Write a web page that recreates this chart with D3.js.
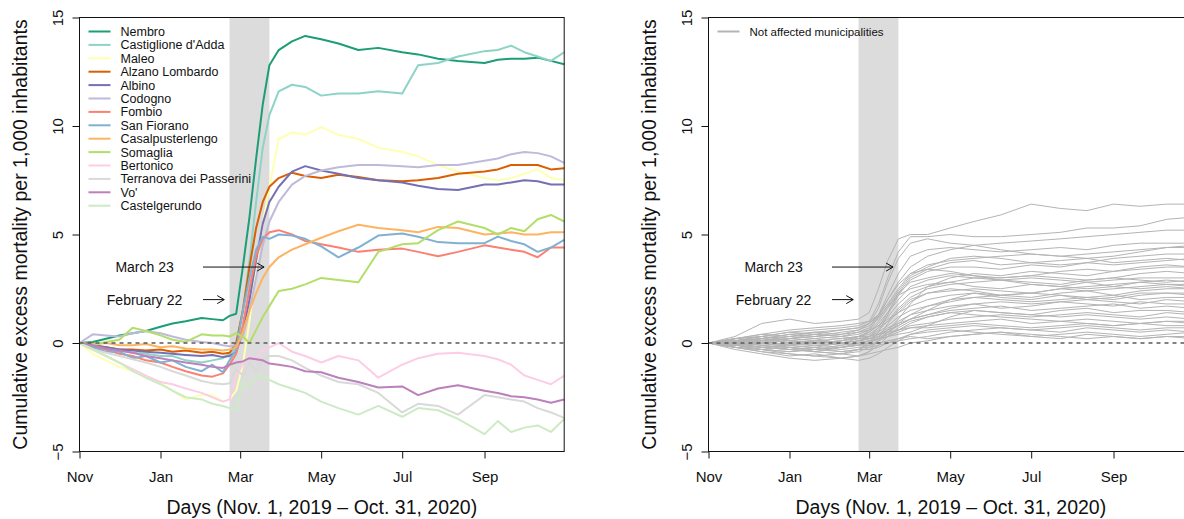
<!DOCTYPE html>
<html>
<head>
<meta charset="utf-8">
<script src="https://cdn.jsdelivr.net/npm/d3@7"></script>
<style>
  body { margin: 0; background: #fff; }
  text { font-family: 'Liberation Sans', Arial, Helvetica, sans-serif; }
</style>
</head>
<body>
<svg id="chart" width="1184" height="519"></svg>
<script>
// sampled days for the affected municipalities
const days = ['2019-11-01', '2019-11-11', '2019-11-21', '2019-12-01', '2019-12-11', '2019-12-21',
  '2020-01-01', '2020-01-10', '2020-01-20', '2020-02-01', '2020-02-09', '2020-02-17', '2020-02-22',
  '2020-02-27', '2020-03-03', '2020-03-08', '2020-03-13', '2020-03-18', '2020-03-23', '2020-03-30',
  '2020-04-09', '2020-04-19', '2020-05-01', '2020-05-14', '2020-05-29', '2020-06-13', '2020-07-01',
  '2020-07-13', '2020-07-28', '2020-08-12', '2020-09-01', '2020-09-11', '2020-09-21', '2020-10-01',
  '2020-10-11', '2020-10-21', '2020-10-31']

const municipalities = ['Nembro', "Castiglione d'Adda", 'Maleo', 'Alzano Lombardo', 'Albino', 'Codogno',
  'Fombio', 'San Fiorano', 'Casalpusterlengo', 'Somaglia', 'Bertonico', 'Terranova dei Passerini',
  "Vo'", 'Castelgerundo']
const colors = ['#1b9e77', '#8dd3c7', '#ffffb3', '#d95f02', '#7570b3', '#bebada', '#fb8072',
  '#80b1d3', '#fdb462', '#b3de69', '#fccde5', '#d9d9d9', '#bc80bd', '#ccebc5']

const nembro = [0, 0.05, 0.2, 0.35, 0.45, 0.55, 0.75, 0.9, 1.0, 1.15, 1.1, 1.05, 1.25, 1.35, 3.5, 5.8, 8.5, 11.0, 12.8, 13.5, 13.9, 14.15, 14.0, 13.8, 13.5, 13.6, 13.4, 13.3, 13.1, 13.0, 12.9, 13.05, 13.1, 13.1, 13.15, 13.0, 12.85]
const castiglione = [0, -0.1, -0.3, -0.35, -0.45, -0.5, -0.6, -0.6, -0.8, -0.9, -0.8, -0.7, -0.5, -0.2, 1.5, 3.8, 6.5, 9.0, 10.5, 11.6, 11.9, 11.8, 11.4, 11.5, 11.5, 11.6, 11.5, 12.8, 12.9, 13.2, 13.45, 13.5, 13.7, 13.4, 13.2, 13.0, 13.4]
const maleo = [0, -0.5, -0.8, -1.1, -1.3, -1.6, -1.8, -2.2, -2.6, -2.4, -2.4, -2.7, -2.6, -2.2, -1.0, 1.0, 3.5, 5.5, 7.2, 9.4, 9.7, 9.6, 9.95, 9.6, 9.4, 9.0, 8.8, 8.6, 8.2, 7.9, 7.6, 7.5, 7.6, 7.8, 8.0, 7.6, 7.5]
const alzano = [0, -0.1, -0.2, -0.3, -0.3, -0.35, -0.3, -0.4, -0.35, -0.45, -0.4, -0.5, -0.45, 0.0, 1.5, 3.5, 5.3, 6.5, 7.2, 7.6, 7.85, 7.7, 7.6, 7.75, 7.65, 7.5, 7.45, 7.5, 7.6, 7.8, 7.9, 8.0, 8.2, 8.2, 8.2, 8.0, 8.05]
const albino = [0, -0.1, -0.2, -0.3, -0.35, -0.4, -0.45, -0.5, -0.55, -0.6, -0.55, -0.65, -0.6, -0.4, 0.5, 2.0, 3.8, 5.5, 6.5, 7.2, 7.9, 8.15, 7.95, 7.8, 7.6, 7.5, 7.4, 7.25, 7.1, 7.05, 7.3, 7.3, 7.4, 7.5, 7.45, 7.3, 7.3]
const codogno = [0, 0.4, 0.35, 0.3, 0.45, 0.55, 0.45, 0.3, 0.15, 0.05, 0.0, -0.1, -0.15, -0.1, 0.3, 1.5, 3.0, 4.5, 5.6, 6.5, 7.3, 7.7, 7.95, 8.1, 8.2, 8.2, 8.15, 8.1, 8.2, 8.2, 8.4, 8.5, 8.7, 8.8, 8.75, 8.6, 8.3]
const fombio = [0, -0.15, -0.3, -0.5, -0.6, -0.8, -0.9, -1.1, -1.3, -1.5, -1.55, -1.4, -1.0, -0.5, 0.8, 2.5, 4.0, 4.8, 5.1, 5.2, 5.0, 4.7, 4.55, 4.4, 4.2, 4.3, 4.35, 4.2, 4.0, 4.2, 4.5, 4.4, 4.3, 4.2, 3.95, 4.4, 4.4]
const sanFiorano = [0, -0.2, -0.4, -0.4, -0.7, -0.6, -0.9, -0.8, -1.1, -1.3, -1.0, -1.35, -0.8, -0.3, 1.5, 3.0, 4.3, 4.9, 4.8, 5.0, 4.95, 4.8, 4.45, 3.95, 4.4, 4.95, 5.05, 4.9, 4.65, 4.6, 4.6, 4.9, 4.7, 4.55, 4.2, 4.4, 4.75]
const casalpusterlengo = [0, -0.05, 0.0, -0.1, -0.1, -0.05, -0.2, -0.15, -0.25, -0.3, -0.3, -0.35, -0.3, -0.2, 0.5, 1.5, 2.3, 3.0, 3.5, 3.95, 4.3, 4.55, 4.85, 5.15, 5.45, 5.3, 5.2, 5.1, 5.35, 5.3, 5.0, 5.05, 5.1, 5.0, 5.0, 5.1, 5.1]
const somaglia = [0, -0.1, 0.05, 0.15, 0.7, 0.55, 0.35, 0.15, 0.05, 0.4, 0.35, 0.35, 0.3, 0.45, 0.3, 0.0, 0.6, 1.2, 1.7, 2.4, 2.5, 2.7, 3.0, 2.9, 2.8, 4.2, 4.55, 4.6, 5.2, 5.6, 5.3, 5.0, 5.3, 5.15, 5.7, 5.9, 5.6]
const bertonico = [0, -0.3, -0.6, -0.9, -1.2, -1.5, -1.8, -1.9, -2.1, -2.3, -2.5, -2.7, -2.6, -1.5, -1.0, -0.6, -0.8, -0.3, -0.2, 0.0, -0.4, -0.6, -0.9, -0.6, -0.8, -1.6, -1.0, -0.7, -0.5, -0.45, -0.6, -0.75, -1.0, -1.5, -1.7, -1.9, -1.5]
const terranova = [0, -0.3, -0.45, -0.6, -0.75, -0.9, -1.1, -1.3, -1.5, -1.75, -1.85, -1.9, -1.85, -1.2, -1.5, -0.9, -1.3, -0.8, -0.6, -0.6, -0.8, -1.15, -1.5, -1.8, -1.9, -2.3, -3.2, -2.8, -2.9, -3.3, -2.4, -2.5, -2.6, -2.7, -3.0, -3.2, -3.45]
const vo = [0, -0.1, -0.25, -0.35, -0.45, -0.6, -0.7, -0.8, -0.9, -1.0, -1.1, -1.15, -1.0, -0.9, -0.85, -0.7, -0.75, -0.8, -0.95, -1.0, -1.1, -1.3, -1.35, -1.6, -1.8, -2.05, -2.0, -2.4, -2.1, -1.95, -2.2, -2.3, -2.45, -2.5, -2.6, -2.75, -2.6]
const castelgerundo = [0, -0.3, -0.6, -0.9, -1.3, -1.6, -1.9, -2.2, -2.5, -2.6, -2.8, -2.9, -3.0, -3.1, -1.8, -2.0, -1.6, -1.5, -1.7, -1.9, -2.1, -2.3, -2.7, -3.0, -3.3, -2.9, -3.4, -3.0, -3.1, -3.5, -4.2, -3.6, -4.1, -3.9, -3.8, -4.1, -3.5]

const affected = [nembro, castiglione, maleo, alzano, albino, codogno, fombio, sanFiorano,
  casalpusterlengo, somaglia, bertonico, terranova, vo, castelgerundo]

// sampled days for the not affected municipalities
const otherDays = ['2019-11-01', '2019-11-21', '2019-12-11', '2020-01-01', '2020-01-20', '2020-02-09',
  '2020-02-22', '2020-03-01', '2020-03-08', '2020-03-15', '2020-03-23', '2020-04-01', '2020-04-14',
  '2020-05-01', '2020-05-19', '2020-06-08', '2020-07-01', '2020-07-23', '2020-08-12', '2020-09-01',
  '2020-09-21', '2020-10-11', '2020-10-31']

const notAffected = [
  [0, 0.3, 0.9, 1.1, 0.9, 1.0, 1.1, 1.4, 2.5, 3.8, 4.8, 5.0, 5.0, 5.3, 5.6, 5.9, 6.4, 6.2, 6.1, 6.4, 6.3, 6.4, 6.4],
  [0, 0.1, 0.3, 0.5, 0.6, 0.7, 0.8, 1.0, 1.8, 3.0, 4.2, 4.9, 4.9, 5.0, 4.9, 4.9, 5.0, 5.1, 5.3, 5.3, 5.4, 5.7, 5.8],
  [0, -0.1, 0.1, 0.2, 0.3, 0.4, 0.6, 0.9, 1.6, 2.8, 3.9, 4.6, 4.8, 4.6, 4.5, 4.6, 4.7, 4.8, 4.9, 5.0, 5.1, 5.2, 5.2],
  [0, 0.2, 0.3, 0.1, 0.2, 0.3, 0.5, 0.7, 1.3, 2.2, 3.2, 4.0, 4.3, 4.4, 4.3, 4.2, 4.3, 4.4, 4.3, 4.5, 4.6, 4.6, 4.6],
  [0, 0.0, -0.2, -0.3, -0.2, 0.0, 0.2, 0.6, 1.2, 2.0, 2.8, 3.5, 4.0, 4.3, 4.5, 4.3, 4.1, 4.0, 3.9, 4.0, 4.2, 4.4, 4.4],
  [0, 0.1, 0.2, 0.4, 0.3, 0.5, 0.6, 0.8, 1.1, 1.7, 2.4, 3.1, 3.5, 3.9, 4.0, 3.9, 3.7, 3.6, 3.7, 3.9, 4.0, 4.1, 4.1],
  [0, -0.2, -0.4, -0.5, -0.6, -0.5, -0.3, 0.0, 0.5, 1.3, 2.2, 2.9, 3.3, 3.5, 3.5, 3.4, 3.6, 3.5, 3.7, 3.6, 3.7, 3.8, 3.9],
  [0, 0.1, 0.0, 0.2, 0.4, 0.3, 0.4, 0.6, 1.0, 1.6, 2.3, 2.8, 3.0, 3.2, 3.1, 3.0, 3.1, 3.3, 3.4, 3.3, 3.5, 3.6, 3.5],
  [0, -0.1, -0.2, -0.1, 0.0, 0.1, 0.3, 0.5, 0.9, 1.4, 2.0, 2.6, 2.9, 3.1, 3.0, 2.9, 2.8, 2.7, 2.9, 3.0, 3.2, 3.3, 3.2],
  [0, 0.2, 0.4, 0.3, 0.5, 0.6, 0.7, 0.9, 1.2, 1.7, 2.2, 2.5, 2.7, 2.8, 2.6, 2.5, 2.7, 2.6, 2.8, 2.9, 3.0, 3.0, 3.0],
  [0, 0.0, -0.1, -0.3, -0.4, -0.2, 0.0, 0.3, 0.6, 1.0, 1.6, 2.1, 2.5, 2.7, 2.8, 2.9, 2.7, 2.6, 2.5, 2.6, 2.8, 2.9, 2.8],
  [0, -0.3, -0.5, -0.7, -0.8, -0.7, -0.6, -0.4, 0.2, 0.9, 1.5, 2.0, 2.3, 2.4, 2.5, 2.4, 2.3, 2.5, 2.4, 2.5, 2.6, 2.7, 2.6],
  [0, 0.1, 0.3, 0.2, 0.1, 0.2, 0.3, 0.4, 0.7, 1.0, 1.4, 1.9, 2.3, 2.5, 2.4, 2.2, 2.1, 2.3, 2.4, 2.2, 2.4, 2.5, 2.5],
  [0, 0.0, 0.2, 0.4, 0.5, 0.4, 0.5, 0.6, 0.8, 1.1, 1.4, 1.7, 2.0, 2.2, 2.3, 2.1, 2.0, 2.2, 2.1, 2.0, 2.2, 2.3, 2.3],
  [0, -0.2, -0.3, -0.2, -0.4, -0.5, -0.4, -0.2, 0.1, 0.5, 0.9, 1.3, 1.7, 2.0, 2.1, 2.0, 1.9, 2.0, 2.1, 2.2, 2.0, 2.1, 2.1],
  [0, 0.1, 0.0, -0.1, 0.1, 0.0, 0.1, 0.2, 0.4, 0.6, 0.8, 1.1, 1.5, 2.0, 2.3, 2.2, 2.3, 2.2, 2.0, 1.9, 1.8, 2.0, 1.9],
  [0, -0.1, -0.3, -0.4, -0.3, -0.2, -0.1, 0.1, 0.3, 0.6, 1.0, 1.3, 1.5, 1.7, 1.8, 1.6, 1.7, 1.9, 1.8, 1.7, 1.9, 1.8, 1.8],
  [0, 0.2, 0.1, 0.3, 0.2, 0.0, 0.1, 0.2, 0.4, 0.7, 0.9, 1.1, 1.3, 1.5, 1.6, 1.7, 1.5, 1.6, 1.7, 1.8, 1.6, 1.7, 1.6],
  [0, -0.2, -0.4, -0.6, -0.5, -0.7, -0.6, -0.4, -0.1, 0.3, 0.7, 1.0, 1.2, 1.4, 1.5, 1.4, 1.3, 1.5, 1.6, 1.4, 1.5, 1.5, 1.4],
  [0, 0.1, 0.2, 0.0, -0.1, -0.2, -0.1, 0.0, 0.2, 0.4, 0.6, 0.8, 0.9, 1.1, 1.2, 1.3, 1.2, 1.3, 1.4, 1.3, 1.2, 1.4, 1.3],
  [0, -0.1, 0.0, 0.1, 0.0, -0.1, 0.0, 0.1, 0.2, 0.3, 0.4, 0.5, 0.8, 1.2, 1.5, 1.4, 1.3, 1.2, 1.3, 1.2, 1.1, 1.2, 1.1],
  [0, 0.0, -0.2, -0.3, -0.2, -0.4, -0.3, -0.1, 0.1, 0.3, 0.5, 0.7, 0.8, 0.9, 1.0, 1.1, 0.9, 1.0, 1.1, 1.0, 0.9, 1.0, 1.0],
  [0, 0.1, 0.1, 0.2, 0.3, 0.2, 0.3, 0.3, 0.4, 0.5, 0.6, 0.7, 0.7, 0.8, 0.9, 0.8, 0.7, 0.8, 0.9, 0.8, 0.9, 0.8, 0.8],
  [0, -0.2, -0.3, -0.5, -0.6, -0.7, -0.8, -0.7, -0.5, -0.2, 0.1, 0.4, 0.6, 0.7, 0.8, 0.7, 0.6, 0.7, 0.8, 0.7, 0.6, 0.7, 0.7],
  [0, 0.0, 0.1, -0.1, -0.2, -0.3, -0.2, -0.2, -0.1, 0.0, 0.1, 0.2, 0.3, 0.5, 0.6, 0.7, 0.6, 0.5, 0.7, 0.6, 0.5, 0.6, 0.5],
  [0, -0.1, -0.2, -0.3, -0.4, -0.5, -0.6, -0.5, -0.4, -0.3, -0.2, 0.0, 0.1, 0.3, 0.4, 0.5, 0.3, 0.2, 0.4, 0.3, 0.2, 0.3, 0.3],
  [0, 0.1, 0.2, 0.1, 0.0, 0.1, 0.2, 0.2, 0.3, 0.6, 1.1, 1.8, 2.6, 3.0, 3.2, 3.1, 3.3, 3.2, 3.1, 3.3, 3.4, 3.5, 3.5],
  [0, -0.1, -0.3, -0.2, -0.1, 0.0, 0.1, 0.3, 0.7, 1.4, 2.3, 3.0, 3.4, 3.7, 3.8, 3.6, 3.7, 3.8, 3.9, 3.7, 3.8, 3.9, 3.8],
  [0, 0.2, 0.4, 0.6, 0.7, 0.8, 0.9, 1.0, 1.3, 1.8, 2.5, 3.2, 3.6, 3.8, 3.9, 4.0, 4.1, 4.0, 4.1, 4.2, 4.3, 4.4, 4.5],
  [0, 0.0, -0.1, -0.2, -0.3, -0.4, -0.3, -0.3, -0.2, 0.0, 0.2, 0.4, 0.5, 0.6, 0.5, 0.4, 0.3, 0.4, 0.5, 0.4, 0.3, 0.4, 0.5],
  [0, -0.2, -0.3, -0.4, -0.3, -0.2, -0.1, 0.0, 0.2, 0.5, 0.8, 1.1, 1.3, 1.6, 1.8, 1.9, 1.8, 1.9, 2.0, 2.1, 2.3, 2.3, 2.2],
  [0, 0.1, 0.2, 0.3, 0.4, 0.3, 0.2, 0.3, 0.5, 0.8, 1.2, 1.5, 1.7, 1.9, 2.1, 2.2, 2.3, 2.5, 2.6, 2.7, 2.8, 2.7, 2.7],
  [0, -0.1, 0.0, -0.2, -0.3, -0.1, 0.0, 0.1, 0.2, 0.4, 0.6, 0.9, 1.2, 1.4, 1.3, 1.2, 1.1, 1.0, 0.9, 0.8, 0.9, 1.0, 0.9],
  [0, 0.2, 0.3, 0.5, 0.4, 0.6, 0.7, 0.9, 1.3, 2.0, 2.7, 3.2, 3.4, 3.3, 3.1, 2.9, 3.0, 2.9, 2.8, 2.6, 2.5, 2.6, 2.5],
  [0, 0.0, -0.1, 0.0, 0.1, 0.0, -0.1, -0.1, 0.0, 0.1, 0.2, 0.3, 0.2, 0.3, 0.4, 0.5, 0.4, 0.3, 0.2, 0.3, 0.2, 0.3, 0.2],
  [0, -0.1, -0.2, -0.1, 0.0, 0.1, 0.3, 0.5, 0.8, 1.2, 1.8, 2.3, 2.6, 2.8, 3.0, 3.0, 3.1, 3.0, 2.9, 3.0, 2.9, 2.8, 2.9]
]

const monthTicks = ['2019-11-01', '2020-01-01', '2020-03-01', '2020-05-01', '2020-07-01', '2020-09-01']
const yTicks = [-5, 0, 5, 10, 15]
const lockdown = ['2020-02-22', '2020-03-23']
const notes = [
  { label: 'March 23', at: '2019-12-20', from: '2020-02-02', to: '2020-03-19', value: 3.5 },
  { label: 'February 22', at: '2019-12-20', from: '2020-02-02', to: '2020-02-18', value: 2 }
]

const parse = d3.timeParse('%Y-%m-%d')
const width = 484.7
const height = 434

const x = d3.scaleTime()
  .domain([parse('2019-11-01'), parse('2020-10-31')])
  .range([0, width])
const y = d3.scaleLinear().domain([-5, 15]).range([height, 0])

const svg = d3.select('#chart')
svg.append('rect').attr('width', 1184).attr('height', 519).attr('fill', 'white')

function panel(left) {
  const g = svg.append('g').attr('transform', `translate(${left + 0.5},17.5)`)

  // lockdown band
  g.append('rect')
    .attr('x', x(parse(lockdown[0])))
    .attr('width', x(parse(lockdown[1])) - x(parse(lockdown[0])))
    .attr('y', 0)
    .attr('height', height)
    .attr('fill', '#dcdcdc')
  return g
}

function decorate(g) {
  // zero reference
  g.append('line')
    .attr('x1', 0).attr('x2', width)
    .attr('y1', y(0)).attr('y2', y(0))
    .attr('stroke', '#5a5a5a')
    .attr('stroke-width', 1.4)
    .attr('stroke-dasharray', '4,4')

  // arrows and their labels
  notes.forEach(n => {
    const x0 = x(parse(n.from))
    const x1 = x(parse(n.to))
    const yy = y(n.value)
    g.append('path')
      .attr('d', `M${x0},${yy}H${x1}M${x1 - 7},${yy - 4}L${x1},${yy}L${x1 - 7},${yy + 4}`)
      .attr('fill', 'none')
      .attr('stroke', '#111')
      .attr('stroke-width', 1)
    g.append('text')
      .attr('x', x(parse(n.at)))
      .attr('y', yy + 5)
      .attr('text-anchor', 'middle')
      .style('font-size', '14px')
      .attr('fill', '#111')
      .text(n.label)
  })

  // box
  g.append('rect')
    .attr('width', width)
    .attr('height', height)
    .attr('fill', 'none')
    .attr('stroke', '#111')

  const yAxis = g.append('g')
    .call(d3.axisLeft(y).tickValues(yTicks).tickSize(7)
      .tickFormat(d => d < 0 ? '\u2212' + Math.abs(d) : d))
  yAxis.select('.domain').remove()
  yAxis.selectAll('line').attr('stroke', '#111')
  yAxis.selectAll('text')
    .attr('transform', 'rotate(-90)')
    .attr('x', 0)
    .attr('y', -17)
    .attr('dy', 0)
    .attr('text-anchor', 'middle')
    .attr('fill', '#111')
    .style('font-size', '15px')
    .style('font-family', "'Liberation Sans', Arial, sans-serif")

  const xAxis = g.append('g')
    .attr('transform', `translate(0,${height})`)
    .call(d3.axisBottom(x).tickValues(monthTicks.map(parse)).tickSize(7)
      .tickFormat(d3.timeFormat('%b')))
  xAxis.select('.domain').remove()
  xAxis.selectAll('line').attr('stroke', '#111')
  xAxis.selectAll('text')
    .attr('y', 30)
    .attr('dy', 0)
    .attr('fill', '#111')
    .style('font-size', '15px')
    .style('font-family', "'Liberation Sans', Arial, sans-serif")

  g.append('text')
    .attr('transform', `translate(-53,${height / 2}) rotate(-90)`)
    .attr('text-anchor', 'middle')
    .style('font-size', '19.5px')
    .attr('fill', '#111')
    .text('Cumulative excess mortality per 1,000 inhabitants')

  g.append('text')
    .attr('x', width / 2)
    .attr('y', height + 62)
    .attr('text-anchor', 'middle')
    .style('font-size', '19.5px')
    .attr('fill', '#111')
    .text('Days (Nov. 1, 2019 \u2013 Oct. 31, 2020)')
}

// left panel: affected municipalities
const left = panel(79)
const line = d3.line()
  .x((d, i) => x(parse(days[i])))
  .y(d => y(d))

left.selectAll('.series')
  .data(affected)
  .enter()
  .append('path')
  .attr('class', 'series')
  .attr('d', line)
  .attr('fill', 'none')
  .attr('stroke', (d, i) => colors[i])
  .attr('stroke-width', 2)
  .attr('stroke-linejoin', 'round')

decorate(left)

const legend = left.selectAll('.legend')
  .data(municipalities)
  .enter()
  .append('g')
  .attr('class', 'legend')
  .attr('transform', (d, i) => `translate(9,${14 + i * 13.4})`)
legend.append('line')
  .attr('x1', 0).attr('x2', 22)
  .attr('stroke', (d, i) => colors[i])
  .attr('stroke-width', 2)
legend.append('text')
  .attr('x', 32)
  .attr('y', 4.5)
  .style('font-size', '12.5px')
  .attr('fill', '#111')
  .text(d => d)

// right panel: not affected municipalities
const right = panel(708)
const otherLine = d3.line()
  .x((d, i) => x(parse(otherDays[i])))
  .y(d => y(d))

right.selectAll('.series')
  .data(notAffected)
  .enter()
  .append('path')
  .attr('class', 'series')
  .attr('d', otherLine)
  .attr('fill', 'none')
  .attr('stroke', '#b4b4b4')
  .attr('stroke-width', 1)

decorate(right)

right.append('line')
  .attr('x1', 9).attr('x2', 31)
  .attr('y1', 14).attr('y2', 14)
  .attr('stroke', '#b4b4b4')
  .attr('stroke-width', 2)
right.append('text')
  .attr('x', 41)
  .attr('y', 18)
  .style('font-size', '11.5px')
  .attr('fill', '#111')
  .text('Not affected municipalities')
</script>
</body>
</html>
